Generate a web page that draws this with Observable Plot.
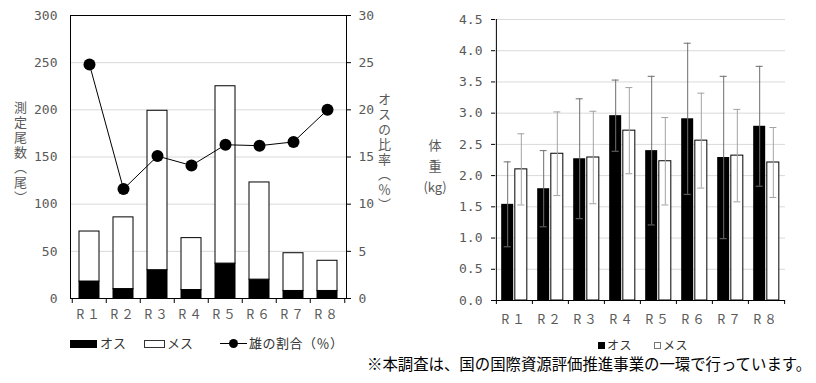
<!DOCTYPE html>
<html><head><meta charset="utf-8">
<script src="https://cdn.jsdelivr.net/npm/d3@7"></script>
<script src="https://cdn.jsdelivr.net/npm/@observablehq/plot@0.6"></script>
<style>
body{margin:0;background:#fff;}
#wrap{position:relative;width:816px;height:383px;overflow:hidden;background:#fff;font-family:"Noto Sans CJK JP",sans-serif;}
.abs{position:absolute;}
.vt{position:absolute;writing-mode:vertical-rl;font-size:13px;color:#595959;letter-spacing:2px;line-height:1;}
.lg{position:absolute;font-size:13px;color:#333;line-height:16px;white-space:nowrap;}
g[aria-label="x-axis tick label"] text{letter-spacing:3px;}
</style></head><body>
<div id="wrap">
  <div id="left" class="abs" style="left:0;top:0"></div>
  <div id="leftLine" class="abs" style="left:0;top:0"></div>
  <div id="right" class="abs" style="left:410px;top:0"></div>

  <div class="vt" style="left:14px;top:101px">測定尾数（尾）</div>
  <div class="vt" style="left:378px;top:93px">オスの比率（％）</div>
  <div class="abs" style="left:420px;top:134px;width:30px;text-align:center;font-size:13px;line-height:21px;color:#595959">体<br>重<br>(kg)</div>

  <!-- left legend -->
  <div class="abs" style="left:70px;top:340px;width:27px;height:8px;background:#000"></div>
  <div class="lg" style="left:100px;top:335px">オス</div>
  <div class="abs" style="left:144px;top:340px;width:19px;height:6px;background:#fff;border:1px solid #333"></div>
  <div class="lg" style="left:167px;top:335px">メス</div>
  <div class="abs" style="left:220px;top:343px;width:27px;height:1px;background:#000"></div>
  <div class="abs" style="left:229px;top:339px;width:9px;height:9px;border-radius:50%;background:#000"></div>
  <div class="lg" style="left:249px;top:335px;letter-spacing:0.5px">雄の割合（％）</div>

  <!-- right legend -->
  <div class="abs" style="left:598px;top:342px;width:7px;height:7px;background:#000"></div>
  <div class="lg" style="left:607px;top:337px;font-size:12px;letter-spacing:0.5px">オス</div>
  <div class="abs" style="left:654px;top:342px;width:5px;height:5px;background:#fff;border:1px solid #777"></div>
  <div class="lg" style="left:663px;top:337px;font-size:12px;letter-spacing:0.5px">メス</div>

  <div class="abs" style="left:367px;top:353px;font-size:15.4px;line-height:20px;color:#000;white-space:nowrap">※本調査は、国の国際資源評価推進事業の一環で行っています。</div>
</div>
<script>
const regions = ["R１","R２","R３","R４","R５","R６","R７","R８"];
const maleCount = [18, 10, 30, 9, 37, 20, 8, 8];
const femaleCount = [53, 76, 169, 55, 188, 103, 40, 32];
const maleRatio = [24.8, 11.6, 15.1, 14.1, 16.3, 16.2, 16.6, 20.0];
const countTicks = [0, 50, 100, 150, 200, 250, 300];
const ratioTicks = [0, 5, 10, 15, 20, 25, 30];

const maleWeight = [1.54, 1.79, 2.27, 2.96, 2.40, 2.91, 2.29, 2.79];
const maleWeightSD = [0.68, 0.61, 0.96, 0.57, 1.19, 1.21, 1.30, 0.96];
const femaleWeight = [2.10, 2.35, 2.29, 2.72, 2.23, 2.56, 2.32, 2.21];
const femaleWeightSD = [0.57, 0.67, 0.74, 0.69, 0.70, 0.76, 0.74, 0.56];
const weightTicks = [0, 0.5, 1.0, 1.5, 2.0, 2.5, 3.0, 3.5, 4.0, 4.5];

const counts = regions.map((r, i) => ({region: r, male: maleCount[i], total: maleCount[i] + femaleCount[i], ratio: maleRatio[i]}));
const weights = regions.map((r, i) => ({region: r, male: maleWeight[i], maleSD: maleWeightSD[i], female: femaleWeight[i], femaleSD: femaleWeightSD[i]}));

const numFont = "DejaVu Sans Mono";
const cjkFont = "Noto Sans CJK JP";
const txtGray = "#595959";

// ---------- left chart ----------
const LW = 410, LH = 330, LML = 70, LMR = 64, LMT = 15, LMB = 32;
const lstep = (LW - LML - LMR) / regions.length;
const xL = {domain: regions, paddingInner: 0.42, paddingOuter: 0.21, label: null};
const baseStyle = {fontFamily: "'Noto Sans CJK JP'", fontSize: "12px", background: "transparent", overflow: "visible"};

const left = Plot.plot({
  width: LW, height: LH, marginLeft: LML, marginRight: LMR, marginTop: LMT, marginBottom: LMB,
  style: baseStyle,
  x: xL,
  y: {domain: [0, 300], label: null},
  marks: [
    Plot.gridY(countTicks, {stroke: "#d9d9d9", strokeOpacity: 1}),
    Plot.barY(counts, {x: "region", y1: () => 0, y2: "male", fill: "black", stroke: "black"}),
    Plot.barY(counts, {x: "region", y1: "male", y2: "total", fill: "white", stroke: "black"}),
    Plot.ruleX(regions, {x: d => d, y1: () => 0, y2: () => 0, dx: -lstep / 2, insetBottom: -5, stroke: "black"}),
    Plot.ruleX(regions.slice(-1), {x: d => d, y1: () => 0, y2: () => 0, dx: lstep / 2, insetBottom: -5, stroke: "black"}),
    Plot.frame({stroke: "black"}),
    Plot.axisY(countTicks, {tickSize: 0, tickPadding: 13, fontFamily: numFont, fontSize: 13, fill: txtGray, label: null}),
    Plot.axisX(regions, {tickSize: 0, tickPadding: 12, fontFamily: cjkFont, fontSize: 12.5, fill: txtGray, label: null})
  ]
});
document.getElementById("left").appendChild(left);

const leftLine = Plot.plot({
  width: LW, height: LH, marginLeft: LML, marginRight: LMR, marginTop: LMT, marginBottom: LMB,
  style: baseStyle,
  x: {...xL, axis: null},
  y: {domain: [0, 30], label: null},
  marks: [
    Plot.line(counts, {x: "region", y: "ratio", stroke: "black", strokeWidth: 1}),
    Plot.dot(counts, {x: "region", y: "ratio", r: 6, fill: "black", stroke: "none"}),
    Plot.axisY(ratioTicks, {anchor: "right", tickSize: 4, tickPadding: 8, stroke: "black", fontFamily: numFont, fontSize: 13, fill: txtGray, label: null})
  ]
});
document.getElementById("leftLine").appendChild(leftLine);

// ---------- right chart ----------
const RW = 406, RH = 340, RML = 85, RMR = 31, RMT = 19, RMB = 40;
const rstep = (RW - RML - RMR) / regions.length;
const rpad = 0.668;
const bw = rstep * (1 - rpad);
const off = bw / 2 + 0.8;
const maleErr = "#6e6e6e", femaleErr = "#a3a3a3";

const right = Plot.plot({
  width: RW, height: RH, marginLeft: RML, marginRight: RMR, marginTop: RMT, marginBottom: RMB,
  style: baseStyle,
  x: {domain: regions, paddingInner: rpad, paddingOuter: rpad / 2, label: null},
  y: {domain: [0, 4.5], label: null},
  marks: [
    Plot.gridY(weightTicks, {stroke: "#d9d9d9", strokeOpacity: 1}),
    Plot.barY(weights, {x: "region", y: "male", fill: "black", dx: -off}),
    Plot.barY(weights, {x: "region", y: "female", fill: "white", stroke: "black", dx: off}),
    Plot.ruleX(weights, {x: "region", y1: d => d.male - d.maleSD, y2: d => d.male + d.maleSD, dx: -off, stroke: maleErr}),
    Plot.tickY(weights, {x: "region", y: d => d.male + d.maleSD, dx: -off, insetLeft: 2.5, insetRight: 2.5, stroke: maleErr}),
    Plot.tickY(weights, {x: "region", y: d => d.male - d.maleSD, dx: -off, insetLeft: 2.5, insetRight: 2.5, stroke: maleErr}),
    Plot.ruleX(weights, {x: "region", y1: d => d.female - d.femaleSD, y2: d => d.female + d.femaleSD, dx: off, stroke: femaleErr}),
    Plot.tickY(weights, {x: "region", y: d => d.female + d.femaleSD, dx: off, insetLeft: 2.5, insetRight: 2.5, stroke: femaleErr}),
    Plot.tickY(weights, {x: "region", y: d => d.female - d.femaleSD, dx: off, insetLeft: 2.5, insetRight: 2.5, stroke: femaleErr}),
    Plot.ruleY([0], {stroke: "black"}),
    Plot.ruleX(regions.slice(0, 1), {x: d => d, dx: -rstep / 2, stroke: "black"}),
    Plot.ruleX(regions, {x: d => d, y1: () => 0, y2: () => 0, dx: -rstep / 2, insetBottom: -4, stroke: "black"}),
    Plot.ruleX(regions.slice(-1), {x: d => d, y1: () => 0, y2: () => 0, dx: rstep / 2, insetBottom: -4, stroke: "black"}),
    Plot.axisY(weightTicks, {tickSize: 4, tickPadding: 9, stroke: "black", tickFormat: d3.format(".1f"), fontFamily: numFont, fontSize: 13, fill: txtGray, label: null}),
    Plot.axisX(regions, {tickSize: 0, tickPadding: 15, fontFamily: cjkFont, fontSize: 12.5, fill: txtGray, label: null})
  ]
});
document.getElementById("right").appendChild(right);
</script>
</body></html>
